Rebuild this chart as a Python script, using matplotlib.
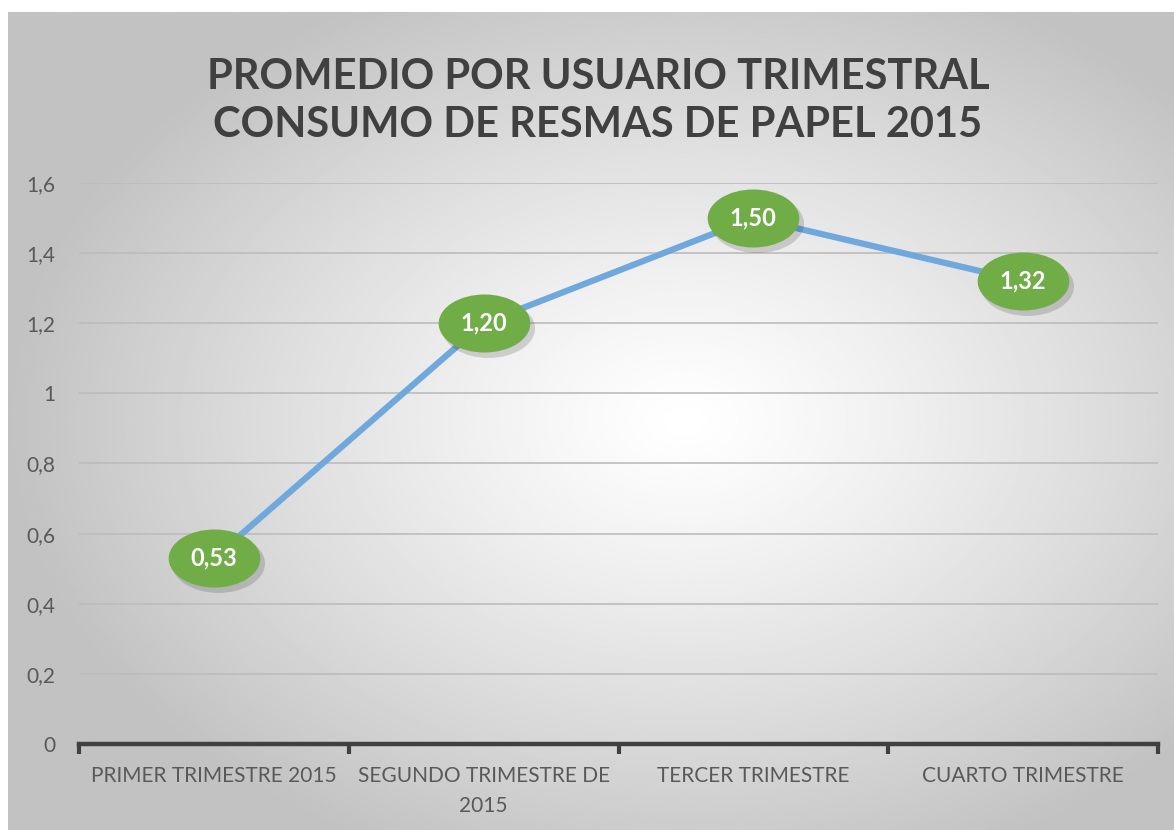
import numpy as np
import matplotlib
matplotlib.use("Agg")
import matplotlib.pyplot as plt
from matplotlib.path import Path
from matplotlib.transforms import Affine2D, offset_copy
from matplotlib.ticker import FuncFormatter, FixedLocator

categories = ["PRIMER TRIMESTRE 2015", "SEGUNDO TRIMESTRE DE\n2015",
              "TERCER TRIMESTRE", "CUARTO TRIMESTRE"]
values = [0.53, 1.20, 1.50, 1.32]
labels = ["0,53", "1,20", "1,50", "1,32"]
yticks = [0, 0.2, 0.4, 0.6, 0.8, 1.0, 1.2, 1.4, 1.6]

plt.rcParams["font.family"] = ["Lato", "DejaVu Sans"]

W, H = 1174, 830
fig = plt.figure(figsize=(W / 100, H / 100), dpi=100)

# radial gradient background of the chart area
bg = fig.add_axes([8 / W, 0, 1 - 8 / W, (H - 12) / H])
bg.set_axis_off()
yy, xx = np.mgrid[0:1:400j, 0:1:600j]
r = np.sqrt(((xx - 0.58) / 0.7) ** 2 + ((yy - 0.5) / 0.7) ** 2)
shade = np.clip(1.0 - 0.30 * r ** 1.2, 0.76, 1.0)
bg.imshow(shade, cmap="gray", vmin=0, vmax=1, extent=[0, 1, 0, 1],
          aspect="auto", origin="lower")
bg.set_xlim(0, 1)
bg.set_ylim(0, 1)

ax = fig.add_axes([79 / W, (H - 744) / H, (1158 - 79) / W, (744 - 183) / H])
ax.patch.set_alpha(0)
x = np.arange(len(values))

ax.plot(x, values, color="#6FA8DC", lw=4.5, solid_capstyle="round", zorder=3)

# ellipse labels with a soft shadow
ell = Path.unit_circle().transformed(Affine2D().scale(1.58, 1.0))
shadow_tr = offset_copy(ax.transData, fig=fig, x=4, y=-5, units="dots")
ax.plot(x, values, ls="none", marker=ell, ms=67, mfc="#000000", mec="none",
        alpha=0.15, transform=shadow_tr, zorder=4)
ax.plot(x, values, ls="none", marker=ell, ms=66, mfc="#70AD47", mec="none",
        zorder=5)
for xi, v, lab in zip(x, values, labels):
    ax.text(xi, v, lab, ha="center", va="center", color="white",
            fontsize=17, fontweight="bold", zorder=6)

ax.set_xlim(-0.5, len(values) - 0.5)
ax.set_ylim(0, 1.6)
ax.set_yticks(yticks)
ax.yaxis.set_major_formatter(FuncFormatter(lambda v, p: f"{v:g}".replace(".", ",")))
ax.grid(axis="y", color="#bcbcbc", lw=1.2)
ax.set_axisbelow(True)

ax.set_xticks(x)
ax.set_xticklabels(categories, linespacing=1.6)
ax.xaxis.set_minor_locator(FixedLocator(np.arange(-0.5, len(values), 1.0)))
ax.tick_params(axis="x", which="major", length=0, pad=16, labelsize=15,
               labelcolor="#595959")
ax.tick_params(axis="x", which="minor", length=7, width=3, color="#404040",
               direction="out")
ax.tick_params(axis="y", length=0, pad=17, labelsize=15, labelcolor="#595959")

for s in ["top", "right", "left"]:
    ax.spines[s].set_visible(False)
ax.spines["bottom"].set_color("#404040")
ax.spines["bottom"].set_linewidth(3.2)

fig.text(598 / W, 1 - 101 / H, "PROMEDIO POR USUARIO TRIMESTRAL\nCONSUMO DE RESMAS DE PAPEL 2015",
         ha="center", va="center", fontsize=30, fontweight="bold",
         color="#404040", linespacing=1.35)

fig.savefig("out.png", dpi=100)
